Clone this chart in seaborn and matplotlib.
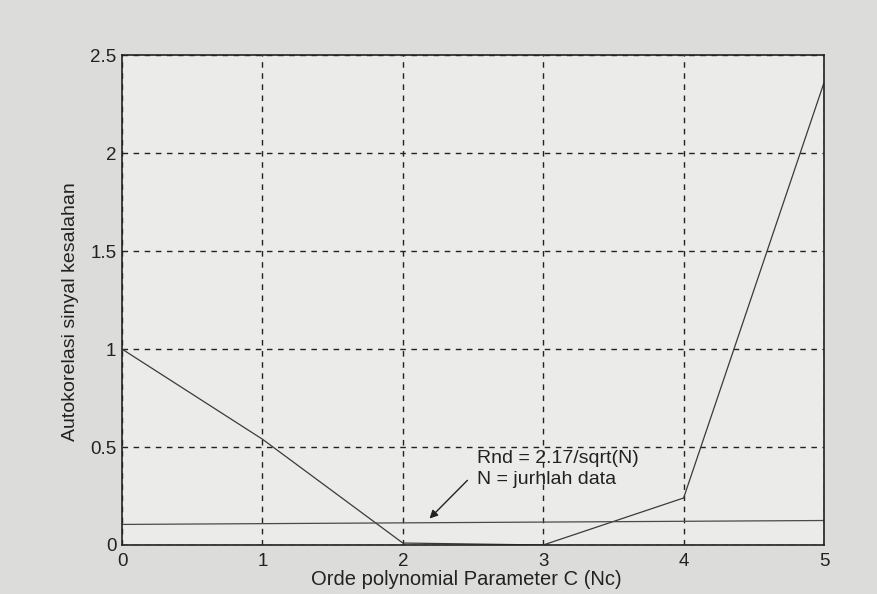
import numpy as np
import pandas as pd
import matplotlib
matplotlib.use("Agg")
import matplotlib.pyplot as plt
import seaborn as sns

# values
nc = [0, 1, 2, 3, 4, 5]
autokorelasi = [1.0, 0.54, 0.01, 0.0, 0.24, 2.36]
rnd_x = [0, 5]
rnd_y = [0.105, 0.125]
x_ticks = [0, 1, 2, 3, 4, 5]
y_ticks = [0, 0.5, 1, 1.5, 2, 2.5]

sns.set_style("white")
plt.rcParams['font.family'] = ['Liberation Sans', 'DejaVu Sans']

fig = plt.figure(figsize=(8.78, 5.94), dpi=100, facecolor='#dcdcda')
ax = fig.add_axes([0.139, 0.0825, 0.7995, 0.8245])
ax.set_facecolor('#ebebea')

df = pd.DataFrame({'Nc': nc, 'R': autokorelasi})
sns.lineplot(data=df, x='Nc', y='R', ax=ax, color='#3a3a3a', linewidth=0.9)
ax.plot(rnd_x, rnd_y, color='#4a4a4a', linewidth=0.9)

ax.set_xlim(0, 5)
ax.set_ylim(0, 2.5)
ax.set_xticks(x_ticks)
ax.set_yticks(y_ticks)
ax.set_yticklabels(['0', '0.5', '1', '1.5', '2', '2.5'])
ax.grid(True, linestyle=(0, (4, 4)), color='#222222', linewidth=1.0)
ax.tick_params(labelsize=13.5, colors='#222222', length=0)
ax.tick_params(axis='x', pad=6)
ax.tick_params(axis='y', pad=4)
for s in ax.spines.values():
    s.set_color('#222222')
    s.set_linewidth(1.2)

ax.set_xlabel('Orde polynomial Parameter C (Nc)', fontsize=14.5, color='#222222', va='center')
ax.set_ylabel('Autokorelasi sinyal kesalahan', fontsize=14, color='#222222', va='center')
ax.xaxis.set_label_coords(0.49, -0.071)
ax.yaxis.set_label_coords(-0.073, 0.476)

ax.text(2.53, 0.29, 'Rnd = 2.17/sqrt(N)\nN = jurhlah data', fontsize=14,
        color='#222222', linespacing=1.3, va='bottom', ha='left')
ax.annotate('', xy=(2.19, 0.135), xytext=(2.46, 0.33),
            arrowprops=dict(arrowstyle='-|>', color='#222222', lw=1.0,
                            shrinkA=0, shrinkB=0, mutation_scale=12))

plt.savefig('out.png', dpi=100, facecolor=fig.get_facecolor())
